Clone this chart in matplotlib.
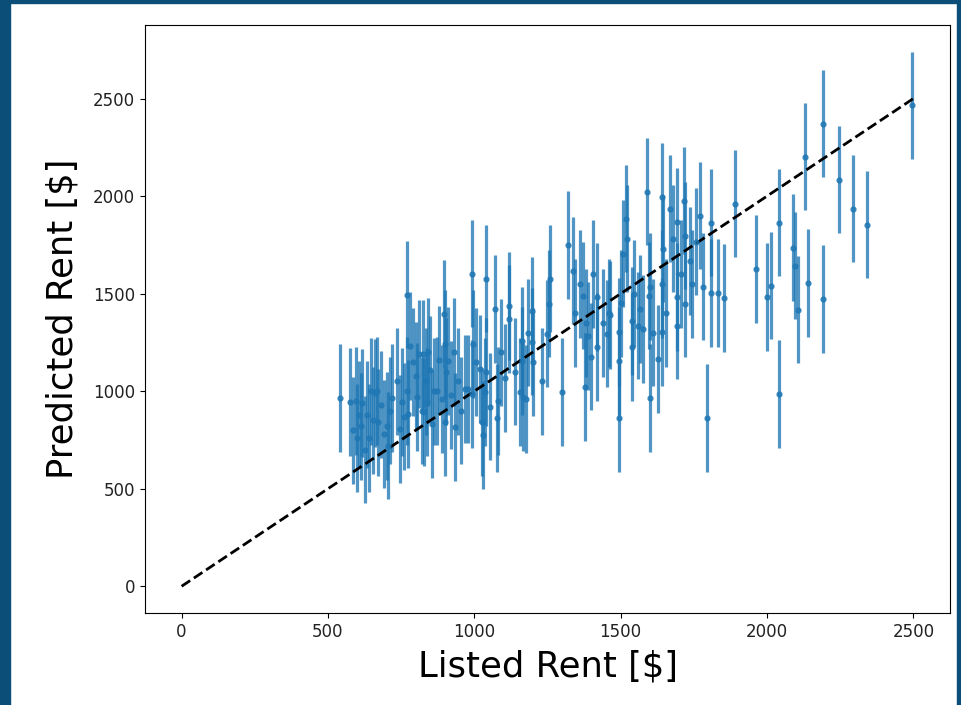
import matplotlib
matplotlib.use("Agg")
import matplotlib.pyplot as plt
from matplotlib.patches import Rectangle

listed = [542, 575, 585, 595, 600, 605, 612, 618, 625, 632, 640, 648, 655, 662, 668, 672, 680, 690,
          703, 706, 712, 720, 735, 747, 754, 760,
          771, 771, 775, 781, 790, 800, 805, 810, 820, 825, 829, 835, 839, 842, 849, 856, 862, 873,
          880, 890, 897, 900, 900, 904, 911, 920, 931, 934, 945, 955, 969, 979, 992, 992, 996,
          1005, 1020, 1027, 1030, 1037, 1040, 1040, 1055, 1071, 1078, 1081, 1090, 1105, 1119, 1119,
          1140, 1156, 1163, 1163, 1166, 1177, 1185, 1197, 1197, 1201, 1230, 1248, 1255, 1259, 1299,
          1320, 1337, 1345, 1360, 1371, 1380, 1378, 1388, 1398, 1405, 1419, 1419, 1440, 1453, 1460,
          1463, 1494, 1494, 1494, 1500, 1508, 1518, 1521, 1538, 1538, 1545, 1559, 1565, 1576, 1590,
          1596, 1600, 1600, 1610, 1627, 1640, 1640, 1640, 1644, 1655, 1668, 1678, 1692, 1692, 1692,
          1705, 1715, 1719, 1719, 1736, 1745, 1756, 1770, 1780, 1794, 1808, 1808, 1831, 1852, 1889,
          1961, 1999, 2012, 2040, 2040, 2088, 2097, 2105, 2128, 2139, 2190, 2190, 2245, 2293, 2343,
          2496]
predicted = [965, 945, 800, 950, 760, 880, 820, 940, 700, 880, 760, 1000, 850, 990, 1001, 840, 930, 780,
             821, 720, 900, 965, 1050, 806, 945, 870,
             1494, 1001, 883, 1232, 1150, 1080, 970, 1191, 900, 1191, 893, 1050, 945, 1201, 1110, 832,
             1000, 1001, 1160, 960, 1396, 1242, 842, 1100, 1155, 980, 1201, 816, 1050, 900, 1011, 1011,
             1602, 986, 1242, 1150, 1114, 842, 775, 996, 1576, 1099, 920, 1422, 862, 950, 1200, 1068,
             1437, 1370, 1100, 996, 1258, 1155, 970, 960, 1300, 1253, 1412, 1150, 1050, 1294, 1448,
             1576, 996, 1750, 1617, 1400, 1550, 1489, 1350, 1022, 1283, 1176, 1600, 1483, 1227, 1350,
             1294, 1400, 1391, 1304, 1155, 862, 1450, 1704, 1884, 1781, 1360, 1227, 1500, 1335, 1422,
             1319, 2022, 1489, 1535, 965, 1300, 1165, 1997, 1550, 1304, 1730, 1400, 1935, 1781, 1868,
             1483, 1335, 1600, 1976, 1797, 1448, 1668, 1550, 1766, 1899, 1535, 862, 1863, 1504, 1504,
             1478, 1961, 1627, 1483, 1540, 1863, 985, 1735, 1643, 1417, 2202, 1555, 2372, 1473, 2084,
             1935, 1853, 2465]
pred_err = 275
line_x = [0, 2500]

fig = plt.figure(figsize=(9.61, 7.05), dpi=100)
fig.patch.set_facecolor("white")
border = "#0b4f78"
fig.patches.append(Rectangle((0, 0), 10 / 961, 1, transform=fig.transFigure, color=border, zorder=-1))
fig.patches.append(Rectangle((0, 1 - 3 / 705), 1, 3 / 705, transform=fig.transFigure, color=border, zorder=-1))
fig.patches.append(Rectangle((1 - 4 / 961, 0), 4 / 961, 1, transform=fig.transFigure, color=border, zorder=-1))

ax = fig.add_axes([145 / 961, 1 - 613 / 705, (950 - 145) / 961, (613 - 25) / 705])
ax.errorbar(listed, predicted, yerr=pred_err, fmt='.', color='#1f77b4', alpha=0.78,
            elinewidth=2.3, markersize=7)
ax.plot(line_x, line_x, 'k--', lw=2.0)

ax.set_xticks([0, 500, 1000, 1500, 2000, 2500])
ax.set_yticks([0, 500, 1000, 1500, 2000, 2500])
ax.tick_params(labelsize=12, labelcolor='#222222')
ax.set_xlabel("Listed Rent [$]", fontsize=25.5, labelpad=6)
ax.set_ylabel("Predicted Rent [$]", fontsize=25.5, labelpad=10)

fig.savefig("out.png", dpi=100)
